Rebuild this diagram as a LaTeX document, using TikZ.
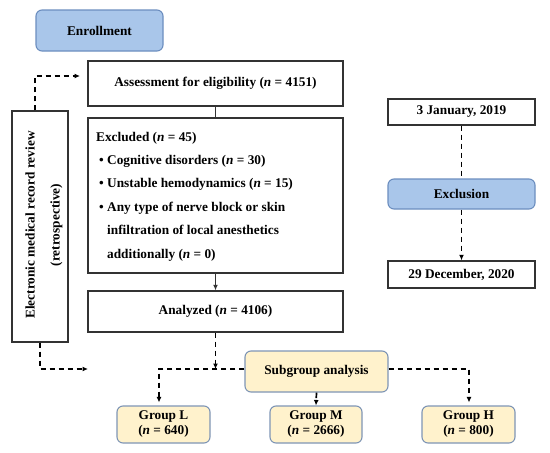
\documentclass[tikz,border=0pt]{standalone}
\usepackage{fontspec}
\setmainfont{Liberation Serif}
\usetikzlibrary{arrows.meta,calc}
\definecolor{boxgray}{HTML}{333333}
\definecolor{bluefill}{HTML}{A9C6EA}
\definecolor{bluebd}{HTML}{6C8EBF}
\definecolor{yelfill}{HTML}{FFF2CC}
\definecolor{yelbd}{HTML}{7E95B5}
\newcommand\bitem{\makebox[11pt][l]{\hspace{3pt}\textbullet}}
\newcommand\bcont{\hspace*{11pt}}
\newcommand\nn{\textit{n}}
\tikzset{
  every node/.style={font=\fontsize{13.3}{15}\selectfont\bfseries},
  plainbox/.style={draw=boxgray, line width=1.4pt, fill=white, inner sep=0pt, align=center},
  bluebox/.style={draw=bluebd, fill=bluefill, line width=1.1pt, rounded corners=6pt, inner sep=0pt, align=center},
  yelbox/.style={draw=yelbd, fill=yelfill, line width=1.1pt, rounded corners=6pt, inner sep=0pt, align=center},
  dline/.style={line width=1.7pt, dash pattern=on 5.5pt off 3.5pt, black},
  sline/.style={line width=1.4pt, boxgray},
  arr/.style={-{Latex[length=5.5pt,width=5pt]}},
}
\begin{document}
\begin{tikzpicture}[x=1pt,y=-1pt]
\useasboundingbox (0,0) rectangle (550,453);
% left column
\node[bluebox, minimum width=127pt, minimum height=41pt] (enroll) at (99.5,30.5) {Enrollment};
\node[plainbox, minimum width=255pt, minimum height=45pt] (assess) at (215.5,83.5) {Assessment for eligibility (\nn{} = 4151)};
\node[plainbox, minimum width=255pt, minimum height=155pt] (excl) at (215.5,195.5) {};
\node[anchor=west, align=left, inner sep=0pt, font=\fontsize{13.3}{23.4}\selectfont\bfseries] (excltext) at (96,196.5)
  {Excluded (\nn{} = 45)\\
   \bitem Cognitive disorders (\nn{} = 30)\\
   \bitem Unstable hemodynamics (\nn{} = 15)\\
   \bitem Any type of nerve block or skin\\
   \bcont infiltration of local anesthetics\\
   \bcont additionally (\nn{} = 0)};
\node[plainbox, minimum width=255pt, minimum height=41pt] (anal) at (215.5,311.5) {Analyzed (\nn{} = 4106)};
\node[plainbox, minimum width=56pt, minimum height=231pt] (left) at (40,226.5) {};
\node[rotate=90, align=center, inner sep=0pt, font=\fontsize{13.3}{25}\selectfont\bfseries] (lefttext) at (44,225)
  {Electronic medical record review\\(retrospective)};
% right column
\node[plainbox, minimum width=147pt, minimum height=26pt] (d1) at (461.5,112) {3 January, 2019};
\node[bluebox, minimum width=147pt, minimum height=30pt] (exclu) at (461.5,194) {Exclusion};
\node[plainbox, minimum width=147pt, minimum height=27pt] (d2) at (461.5,274.5) {29 December, 2020};
% subgroup
\node[yelbox, minimum width=143pt, minimum height=41pt] (sub) at (316.5,371.5) {Subgroup analysis};
\node[yelbox, minimum width=93pt, minimum height=37pt] (gL) at (163.5,424.5) {Group L\\(\nn{} = 640)};
\node[yelbox, minimum width=92pt, minimum height=37pt] (gM) at (316,424.5) {Group M\\(\nn{} = 2666)};
\node[yelbox, minimum width=93pt, minimum height=37pt] (gH) at (468.5,424.5) {Group H\\(\nn{} = 800)};
\coordinate (tipA) at (80,76);
\coordinate (tipB) at (88,369);
\coordinate (jn) at (215.5,369);
% connectors
\draw[sline] (assess.south) -- (excl.north);
\draw[sline, arr] (excl.south) -- (anal.north);
\draw[dline, arr] ([xshift=-5pt]left.north) |- (tipA);
\draw[dline, arr] (left.south) |- (tipB);
\draw[dline, arr] (anal.south) -- (jn);
\draw[dline, arr] ([yshift=2.5pt]sub.west) -| ($(gL.north)+(-4.5pt,3pt)$);
\draw[dline, arr] ([yshift=2.5pt]sub.east) -| ($(gH.north)+(0.5pt,3pt)$);
\draw[dline, arr] (sub.south) -- (gM.north);
\draw[dline] (d1.south) -- (exclu.north);
\draw[dline, arr] (exclu.south) -- (d2.north);
\end{tikzpicture}
\end{document}
